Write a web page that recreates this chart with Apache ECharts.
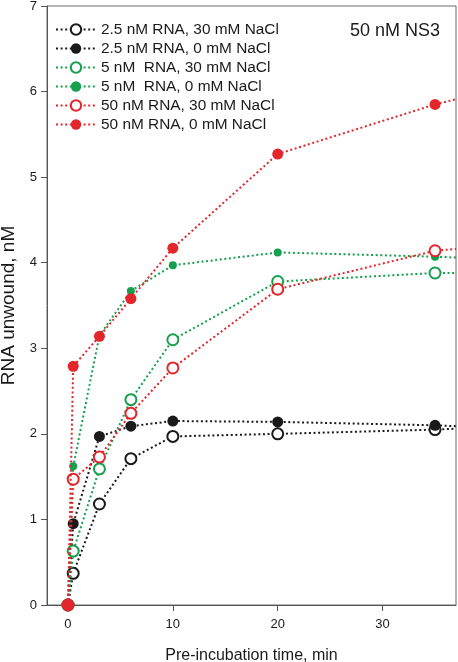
<!DOCTYPE html>
<html>
<head>
<meta charset="utf-8">
<script src="https://cdn.jsdelivr.net/npm/echarts@6/dist/echarts.min.js"></script>
<style>html,body{margin:0;padding:0;background:#fff;}#c{width:458px;height:662px;}</style>
</head>
<body>
<div id="c"></div>
<script>
// x values (min); last value 37 = where the lines leave the plot frame
var times = [0, 0.5, 3, 6, 10, 20, 35, 37];
var seriesNames = [
  '2.5 nM RNA, 30 mM NaCl',
  '2.5 nM RNA, 0 mM NaCl',
  '5 nM  RNA, 30 mM NaCl',
  '5 nM  RNA, 0 mM NaCl',
  '50 nM RNA, 30 mM NaCl',
  '50 nM RNA, 0 mM NaCl'
];
var rna25_30 = [0, 0.37, 1.18, 1.71, 1.97, 2.00, 2.05, 2.06];
var rna25_0  = [0, 0.95, 1.97, 2.09, 2.15, 2.14, 2.10, 2.09];
var rna5_30  = [0, 0.63, 1.59, 2.40, 3.10, 3.78, 3.88, 3.88];
var rna5_0   = [0, 1.62, 3.15, 3.67, 3.97, 4.12, 4.07, 4.06];
var rna50_30 = [0, 1.47, 1.73, 2.24, 2.77, 3.69, 4.14, 4.16];
var rna50_0  = [0, 2.79, 3.14, 3.58, 4.17, 5.27, 5.85, 5.91];
var xTicks = [0, 10, 20, 30];
var yTicks = [0, 1, 2, 3, 4, 5, 6, 7];

var FONT = 'Liberation Sans, Arial, sans-serif';
var colors = ['#1a1a1a', '#1a1a1a', '#14a04c', '#14a04c', '#e3262b', '#e3262b'];
var filled = [false, true, false, true, false, true];
var sizes = [11, 11, 11, 8, 11, 11];
var values = [rna25_30, rna25_0, rna5_30, rna5_0, rna50_30, rna50_0];

function build(vals, i) {
  return times.map(function (t, k) {
    var d = { value: [t, vals[k]] };
    if (k === times.length - 1) d.symbol = 'none';
    return d;
  });
}

var series = values.map(function (v, i) {
  return {
    name: seriesNames[i],
    type: 'line',
    data: build(v, i),
    symbol: 'circle',
    symbolSize: sizes[i],
    showAllSymbol: true,
    clip: true,
    z: 2 + i,
    lineStyle: { color: colors[i], width: 2, type: [2, 2.6] },
    itemStyle: filled[i]
      ? { color: colors[i], borderColor: colors[i], borderWidth: 0 }
      : { color: '#ffffff', borderColor: colors[i], borderWidth: 2 },
    emphasis: { disabled: true },
    animation: false
  };
});

var chart = echarts.init(document.getElementById('c'), null, { renderer: 'canvas' });
chart.setOption({
  animation: false,
  backgroundColor: '#ffffff',
  grid: { left: 47, right: 2, top: 6, bottom: 57, show: true, borderColor: '#6b6b6b', borderWidth: 1, backgroundColor: 'transparent', outerBoundsMode: 'none', containLabel: false },
  legend: {
    orient: 'vertical',
    left: 55,
    top: 22,
    padding: 0,
    itemWidth: 40,
    itemHeight: 13,
    itemGap: 4,
    textStyle: { fontFamily: FONT, fontSize: 15.4, color: '#1a1a1a' },
    data: seriesNames
  },
  title: {
    text: '50 nM NS3',
    right: 18,
    top: 22,
    padding: 0,
    textStyle: { fontFamily: FONT, fontSize: 18, fontWeight: 'normal', color: '#1a1a1a' }
  },
  xAxis: {
    type: 'value',
    min: -2,
    max: 37,
    name: 'Pre-incubation time, min',
    nameLocation: 'middle',
    nameGap: 43,
    nameTextStyle: { fontFamily: FONT, fontSize: 16, color: '#1a1a1a' },
    axisLine: { show: true, onZero: false, lineStyle: { color: '#555', width: 1 } },
    axisTick: { show: true, customValues: xTicks, length: 6, lineStyle: { color: '#555' } },
    axisLabel: { customValues: xTicks, fontFamily: FONT, fontSize: 13, color: '#1a1a1a', margin: 13 },
    splitLine: { show: false }
  },
  yAxis: {
    type: 'value',
    min: 0,
    max: 7,
    interval: 1,
    name: 'RNA unwound, nM',
    nameLocation: 'middle',
    nameGap: 29,
    nameTextStyle: { fontFamily: FONT, fontSize: 19, color: '#1a1a1a' },
    axisLine: { show: true, onZero: false, lineStyle: { color: '#555', width: 1 } },
    axisTick: { show: true, length: 6, customValues: yTicks, lineStyle: { color: '#555' } },
    axisLabel: { customValues: yTicks, fontFamily: FONT, fontSize: 13, color: '#1a1a1a', margin: 10 },
    splitLine: { show: false }
  },
  series: series
});
</script>
</body>
</html>
